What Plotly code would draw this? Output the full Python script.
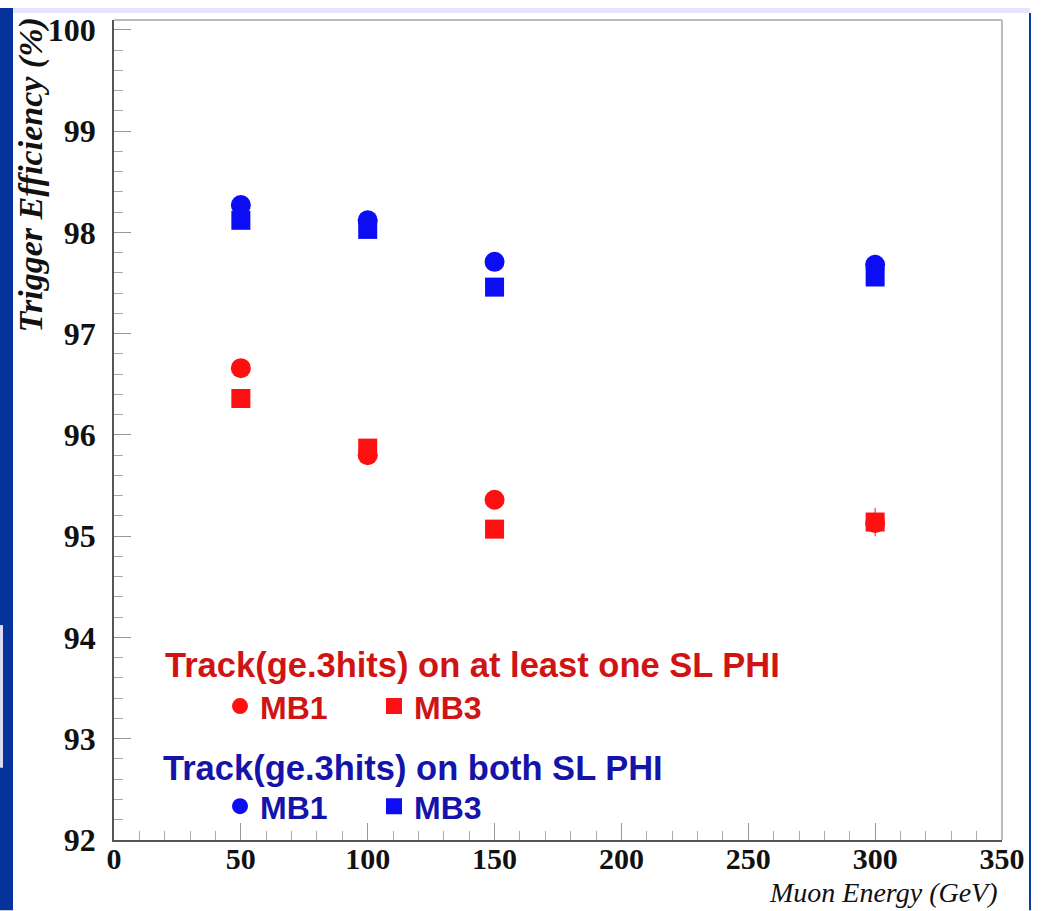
import plotly.graph_objects as go

# ---- data ----
energy = [50, 100, 150, 300]
red_mb1 = [96.66, 95.80, 95.36, 95.13]
red_mb3 = [96.36, 95.87, 95.07, 95.14]
red_mb3_err = [0.0, 0.0, 0.0, 0.14]
blue_mb1 = [98.27, 98.12, 97.71, 97.68]
blue_mb3 = [98.12, 98.03, 97.46, 97.56]
y_ticks = [92, 93, 94, 95, 96, 97, 98, 99, 100]
x_ticks = [0, 50, 100, 150, 200, 250, 300, 350]

W, H = 1047, 911
L, R, T, B = 114, 1002, 12, 840

RED = "#ff0f0f"
BLUE = "#0c0cf5"
RED_TXT = "#d01414"
BLUE_TXT = "#1414aa"


def px(xp):
    return (xp - L) / (R - L)


def py(yp):
    return (B - yp) / (B - T)


fig = go.Figure()
fig.add_trace(go.Scatter(x=energy, y=red_mb1, mode="markers", name="MB1",
                         marker=dict(symbol="circle", size=20, color=RED),
                         legend="legend"))
fig.add_trace(go.Scatter(x=energy, y=red_mb3, mode="markers", name="MB3",
                         marker=dict(symbol="square", size=19, color=RED),
                         error_y=dict(type="data", array=red_mb3_err, visible=True,
                                      color=RED, thickness=1, width=0),
                         legend="legend"))
fig.add_trace(go.Scatter(x=energy, y=blue_mb1, mode="markers", name="MB1",
                         marker=dict(symbol="circle", size=20, color=BLUE),
                         legend="legend2"))
fig.add_trace(go.Scatter(x=energy, y=blue_mb3, mode="markers", name="MB3",
                         marker=dict(symbol="square", size=19, color=BLUE),
                         legend="legend2"))

ytickfont = dict(family="Liberation Serif", size=32, color="#111", weight="bold")
xtickfont = dict(family="Liberation Serif", size=30, color="#111", weight="bold")

fig.update_layout(
    width=W, height=H,
    margin=dict(l=L, r=W - R, t=T, b=H - B),
    paper_bgcolor="white", plot_bgcolor="white",
    showlegend=True,
    legend=dict(x=px(220), y=py(705), xanchor="left", yanchor="middle",
                orientation="h", bgcolor="rgba(0,0,0,0)", itemsizing="trace",
                entrywidth=109, entrywidthmode="pixels",
                font=dict(family="Liberation Sans", size=32, color=RED_TXT, weight="bold")),
    legend2=dict(x=px(220), y=py(806), xanchor="left", yanchor="middle",
                 orientation="h", bgcolor="rgba(0,0,0,0)", itemsizing="trace",
                 entrywidth=109, entrywidthmode="pixels",
                 font=dict(family="Liberation Sans", size=32, color=BLUE_TXT, weight="bold")),
    xaxis=dict(range=[0, 350], tickvals=x_ticks, ticks="inside", ticklen=17,
               tickcolor="#999", tickwidth=1, showgrid=False, zeroline=False,
               showline=True, linecolor="#555", linewidth=1.5,
               tickfont=xtickfont, ticklabelstandoff=-9,
               minor=dict(dtick=10, ticks="inside", ticklen=9, tickcolor="#aaa")),
    yaxis=dict(range=[92, 100.098], tickvals=y_ticks, ticks="inside", ticklen=17,
               tickcolor="#999", tickwidth=1, showgrid=False, zeroline=False,
               showline=True, linecolor="#555", linewidth=1.5,
               tickfont=ytickfont, ticklabelstandoff=10,
               minor=dict(dtick=0.2, ticks="inside", ticklen=9, tickcolor="#aaa")),
)

# frame (top / right) like the ROOT pad
fig.add_shape(type="line", xref="paper", yref="paper", x0=0, x1=1, y0=1, y1=1,
              line=dict(color="#bbbbbb", width=2))
fig.add_shape(type="line", xref="paper", yref="paper", x0=1, x1=1, y0=0, y1=1,
              line=dict(color="#bbbbbb", width=2))

# slide decoration around the picture
fig.add_shape(type="rect", xref="paper", yref="paper", x0=px(0), x1=px(13),
              y0=py(H), y1=py(0), fillcolor="#06329c", line_width=0, layer="below")
fig.add_shape(type="rect", xref="paper", yref="paper", x0=px(0), x1=px(3),
              y0=py(767), y1=py(623), fillcolor="#dcdcf5", line_width=0, layer="below")
fig.add_shape(type="rect", xref="paper", yref="paper", x0=px(13), x1=px(1030),
              y0=py(5), y1=py(0), fillcolor="#e4e4fa", line_width=0, layer="below")
fig.add_shape(type="line", xref="paper", yref="paper", x0=px(1030), x1=px(1030),
              y0=py(H), y1=py(5), line=dict(color="#0a3aaa", width=2))

# axis titles
fig.add_annotation(text="Trigger Efficiency (%)", xref="paper", yref="paper",
                   x=px(31), y=py(8), xanchor="center", yanchor="top",
                   textangle=-90, showarrow=False,
                   font=dict(family="Liberation Serif", size=34, color="#111",
                             style="italic", weight="bold"))
fig.add_annotation(text="Muon Energy (GeV)", xref="paper", yref="paper",
                   x=px(1000), y=py(893), xanchor="right", yanchor="middle",
                   showarrow=False,
                   font=dict(family="Liberation Serif", size=28, color="#111",
                             style="italic"))

# legend headings
fig.add_annotation(text="Track(ge.3hits) on at least one SL PHI", xref="paper", yref="paper",
                   x=px(163), y=py(663), xanchor="left", yanchor="middle", showarrow=False,
                   font=dict(family="Liberation Sans", size=34.5, color=RED_TXT, weight="bold"))
fig.add_annotation(text="Track(ge.3hits) on both SL PHI", xref="paper", yref="paper",
                   x=px(161), y=py(767), xanchor="left", yanchor="middle", showarrow=False,
                   font=dict(family="Liberation Sans", size=34.5, color=BLUE_TXT, weight="bold"))

fig.write_html("out.html")
